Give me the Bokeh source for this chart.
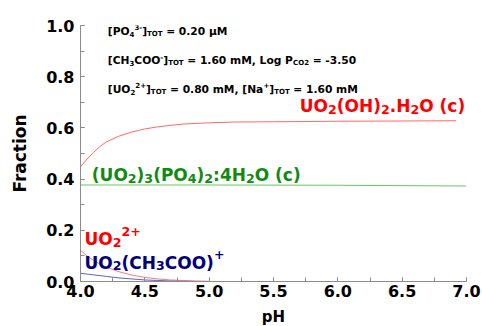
from bokeh.plotting import figure
from bokeh.models import SingleIntervalTicker, NumeralTickFormatter, Range1d
from bokeh.core.properties import value
from bokeh.embed import file_html
from bokeh.resources import INLINE

# --- speciation data (fraction of total U vs pH) ---
ph_schoepite = [4.0, 4.05, 4.1, 4.15, 4.2, 4.3, 4.4, 4.5, 4.6, 4.7, 4.8, 5.0, 5.2, 5.5, 6.0, 6.5, 6.92]
frac_schoepite = [0.448, 0.478, 0.503, 0.527, 0.545, 0.568, 0.584, 0.596, 0.604, 0.610, 0.615, 0.620,
                  0.623, 0.624, 0.626, 0.627, 0.628]

ph_phosphate = [4.0, 5.0, 6.0, 6.3, 7.0]
frac_phosphate = [0.377, 0.377, 0.376, 0.375, 0.373]

ph_uranyl = [4.0, 4.05, 4.1, 4.15, 4.2, 4.3, 4.4, 4.5, 4.6, 4.7, 4.8, 4.9, 5.0]
frac_uranyl = [0.122, 0.100, 0.083, 0.068, 0.056, 0.038, 0.025, 0.016, 0.010, 0.006, 0.004, 0.002, 0.001]

ph_acetate = [4.0, 4.1, 4.2, 4.3, 4.4, 4.5, 4.6, 4.7, 4.8, 4.9]
frac_acetate = [0.032, 0.026, 0.020, 0.014, 0.010, 0.006, 0.004, 0.002, 0.001, 0.0]

FONT = "DejaVu Sans"

# advance widths (em) of DejaVu Sans Bold, used to chain sub/superscript runs
W = {' ': 0.348, '.': 0.380, ',': 0.380, '-': 0.415, '=': 0.838, '+': 0.838, '(': 0.457, ')': 0.457,
     '[': 0.457, ']': 0.457, ':': 0.400, 'A': 0.774, 'C': 0.734, 'H': 0.837, 'L': 0.637, 'M': 0.995,
     'N': 0.837, 'O': 0.850, 'P': 0.733, 'T': 0.682, 'U': 0.812, 'a': 0.675, 'c': 0.593, 'g': 0.716,
     'm': 1.042, 'o': 0.687, 'µ': 0.716}
for d in "0123456789":
    W[d] = 0.696


def text_width(s, size):
    return sum(W.get(ch, 0.6) for ch in s) * size


def rich_text(p, x, y, runs, size, color, small=0.7, sub_drop=0.22, sup_rise=0.38):
    """Draw a label made of normal / subscript / superscript runs, left-aligned at (x, y)."""
    off = 0.0
    lift = -0.33 * size  # raise the glyph baseline onto the anchor point
    for txt, kind in runs:
        fs = size if kind == "n" else size * small
        # SVG drops leading blanks, so turn them into an explicit offset
        body = txt.lstrip(" ")
        off += text_width(txt[:len(txt) - len(body)], fs)
        dy = lift
        if kind == "sub":
            dy += size * sub_drop
        elif kind == "sup":
            dy -= size * sup_rise
        p.text(x=[x], y=[y], text=[body], x_offset=off, y_offset=dy,
               text_font=value(FONT), text_font_style="bold", text_font_size=f"{fs:.1f}px",
               text_color=color, text_align="left", text_baseline="alphabetic")
        off += text_width(body, fs)


p = figure(frame_width=386, frame_height=256, output_backend="svg", toolbar_location=None,
           x_range=Range1d(4.0, 7.0), y_range=Range1d(0.0, 1.0),
           min_border_left=80, min_border_right=16, min_border_top=25, min_border_bottom=45)
p.outline_line_color = None
p.grid.grid_line_color = None
p.background_fill_color = "white"
p.border_fill_color = "white"

p.xaxis.ticker = SingleIntervalTicker(interval=0.5, num_minor_ticks=2)
p.yaxis.ticker = SingleIntervalTicker(interval=0.2, num_minor_ticks=2)
p.xaxis.formatter = NumeralTickFormatter(format="0.0")
p.yaxis.formatter = NumeralTickFormatter(format="0.0")

for ax in (p.xaxis, p.yaxis):
    ax.axis_line_color = "#8c8c8c"
    ax.major_tick_line_color = "#8c8c8c"
    ax.minor_tick_line_color = "#8c8c8c"
    ax.major_tick_in = 4
    ax.major_tick_out = 0
    ax.minor_tick_in = 4
    ax.minor_tick_out = 0
    ax.major_label_text_font = FONT
    ax.major_label_text_font_style = "bold"
    ax.major_label_text_font_size = "16px"
    ax.major_label_text_color = "black"
    ax.axis_label_text_font = FONT
    ax.axis_label_text_font_style = "bold"
    ax.axis_label_text_color = "black"

p.yaxis.axis_label = "Fraction"
p.yaxis.axis_label_text_font_size = "17px"
p.yaxis.major_label_standoff = 6
p.yaxis.axis_label_standoff = 13
p.xaxis.axis_label = "pH"
p.xaxis.axis_label_text_font_size = "15px"
p.xaxis.major_label_standoff = 3
p.xaxis.axis_label_standoff = 8

# species curves
p.line(ph_schoepite, frac_schoepite, line_color="#ff6a6a", line_width=1)
p.line(ph_phosphate, frac_phosphate, line_color="#6cc06c", line_width=1)
p.line(ph_uranyl, frac_uranyl, line_color="#ff7a7a", line_width=1)
p.line(ph_acetate, frac_acetate, line_color="#6060cc", line_width=1)

# system composition
info = dict(small=0.65)
rich_text(p, 4.212, 0.964, [("[PO", "n"), ("4", "sub"), ("3-", "sup"), ("]", "n"), ("TOT", "sub"),
                            (" = 0.20 µM", "n")], 10.7, "black", **info)
rich_text(p, 4.212, 0.848, [("[CH", "n"), ("3", "sub"), ("COO", "n"), ("-", "sup"), ("]", "n"),
                            ("TOT", "sub"), (" = 1.60 mM, Log P", "n"), ("CO2", "sub"),
                            (" = -3.50", "n")], 10.7, "black", **info)
rich_text(p, 4.212, 0.737, [("[UO", "n"), ("2", "sub"), ("2+", "sup"), ("]", "n"), ("TOT", "sub"),
                            (" = 0.80 mM, [Na", "n"), ("+", "sup"), ("]", "n"), ("TOT", "sub"),
                            (" = 1.60 mM", "n")], 10.7, "black", **info)

# species labels
rich_text(p, 5.704, 0.664, [("UO", "n"), ("2", "sub"), ("(OH)", "n"), ("2", "sub"), (".H", "n"),
                            ("2", "sub"), ("O (c)", "n")], 17, "#ff0000", small=0.74, sub_drop=0.2)
rich_text(p, 4.088, 0.395, [("(UO", "n"), ("2", "sub"), (")", "n"), ("3", "sub"), ("(PO", "n"),
                            ("4", "sub"), (")", "n"), ("2", "sub"), (":4H", "n"), ("2", "sub"),
                            ("O (c)", "n")], 17, "#128a12", small=0.74, sub_drop=0.2)
rich_text(p, 4.031, 0.145, [("UO", "n"), ("2", "sub"), ("2+", "sup")], 17, "#ff0000",
          small=0.74, sub_drop=0.2, sup_rise=0.45)
rich_text(p, 4.031, 0.052, [("UO", "n"), ("2", "sub"), ("(CH", "n"), ("3", "sub"), ("COO)", "n"),
                            ("+", "sup")], 17, "#00007a", small=0.74, sub_drop=0.2, sup_rise=0.45)

open("out.html", "w").write(file_html(p, INLINE))
